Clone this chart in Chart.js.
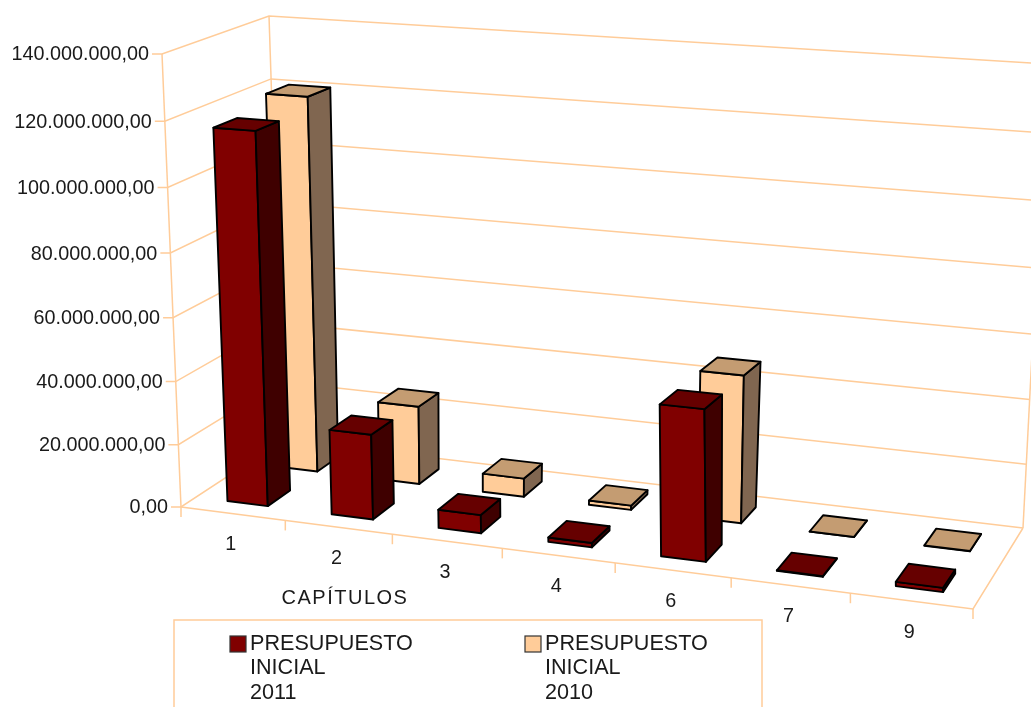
<!DOCTYPE html>
<html>
<head>
<meta charset="utf-8">
<style>
html, body { margin: 0; padding: 0; background: #fff; overflow: hidden; }
#wrap { width: 1031px; height: 707px; }
</style>
<script src="https://cdn.jsdelivr.net/npm/chart.js@4"></script>
</head>
<body>
<div id="wrap"><canvas id="budgetChart" width="1031" height="707"></canvas></div>
<script>
const categories = ['1', '2', '3', '4', '6', '7', '9'];
const budget2011 = [116900000, 26800000, 5700000, 1350000, 45900000, 200000, 1250000];
const budget2010 = [120700000, 25300000, 5900000, 1350000, 46200000, 50000, 100000];
const tickLabels = ['0,00', '20.000.000,00', '40.000.000,00', '60.000.000,00', '80.000.000,00',
    '100.000.000,00', '120.000.000,00', '140.000.000,00'];
const axisTitle = 'CAPÍTULOS';
const legend2011 = ['PRESUPUESTO', 'INICIAL', '2011'];
const legend2010 = ['PRESUPUESTO', 'INICIAL', '2010'];

const LINE_COLOR = '#ffcc99';
const FONT = 'Liberation Sans, Arial, sans-serif';
const HEIGHT_PERSPECTIVE = 0.045;

// corners of the 3D box on screen, floor and ceiling
const floorQuad = [[181, 507], [973, 609], [1023, 528], [283, 440]];
const topQuad = [[162, 54], [957, 105], [1047, 64], [269, 16]];

const floorH = quadMap(floorQuad);
const topH = quadMap(topQuad);

function quadMap(q) {
    const [p0, p1, p2, p3] = q;
    const dx1 = p1[0] - p2[0], dx2 = p3[0] - p2[0], sx = p0[0] - p1[0] + p2[0] - p3[0];
    const dy1 = p1[1] - p2[1], dy2 = p3[1] - p2[1], sy = p0[1] - p1[1] + p2[1] - p3[1];
    const den = dx1 * dy2 - dx2 * dy1;
    const g = (sx * dy2 - dx2 * sy) / den;
    const h = (dx1 * sy - sx * dy1) / den;
    const a = p1[0] - p0[0] + g * p1[0], b = p3[0] - p0[0] + h * p3[0];
    const d = p1[1] - p0[1] + g * p1[1], e = p3[1] - p0[1] + h * p3[1];
    return function (u, t) {
        const w = g * u + h * t + 1;
        return [(a * u + b * t + p0[0]) / w, (d * u + e * t + p0[1]) / w];
    };
}

// u along categories, d into the depth, v up the value axis, all 0..1
function project(u, d, v) {
    const f = floorH(u, d), t = topH(u, d);
    const vv = v / (1 + HEIGHT_PERSPECTIVE * (1 - v));
    return [f[0] + (t[0] - f[0]) * vv, f[1] + (t[1] - f[1]) * vv];
}

function line(ctx, pts) {
    ctx.beginPath();
    ctx.moveTo(pts[0][0], pts[0][1]);
    for (let i = 1; i < pts.length; i++) ctx.lineTo(pts[i][0], pts[i][1]);
    ctx.stroke();
}

function face(ctx, pts, color) {
    ctx.beginPath();
    ctx.moveTo(pts[0][0], pts[0][1]);
    for (let i = 1; i < pts.length; i++) ctx.lineTo(pts[i][0], pts[i][1]);
    ctx.closePath();
    ctx.fillStyle = color;
    ctx.fill();
    ctx.stroke();
}

const box3d = {
    id: 'box3d',
    beforeDatasetsDraw(chart) {
        const ctx = chart.ctx;
        const yScale = chart.scales.y, xScale = chart.scales.x;
        const area = chart.chartArea;
        ctx.save();
        ctx.strokeStyle = LINE_COLOR;
        ctx.lineWidth = 1.5;

        // walls and grid lines
        yScale.ticks.forEach(function (tick) {
            const v = (area.bottom - yScale.getPixelForValue(tick.value)) / area.height;
            const a = project(0, 0, v);
            line(ctx, [[a[0] - 10, a[1]], a, project(0, 1, v), project(1, 1, v)]);
        });
        line(ctx, [project(0, 0, 0), project(0, 0, 1)]);
        line(ctx, [project(0, 1, 0), project(0, 1, 1)]);
        line(ctx, [project(1, 1, 0), project(1, 1, 1)]);
        line(ctx, [project(0, 0, 0), project(1, 0, 0), project(1, 1, 0)]);

        // category ticks
        for (let i = 0; i <= categories.length; i++) {
            const p = project(i / categories.length, 0, 0);
            line(ctx, [p, [p[0], p[1] + 10]]);
        }

        // tick labels
        ctx.fillStyle = '#1a1a1a';
        ctx.font = '19.8px ' + FONT;
        ctx.textAlign = 'right';
        ctx.textBaseline = 'middle';
        yScale.ticks.forEach(function (tick) {
            const v = (area.bottom - yScale.getPixelForValue(tick.value)) / area.height;
            const a = project(0, 0, v);
            ctx.fillText(tick.label, a[0] - 13, a[1] + 1);
        });
        ctx.textAlign = 'center';
        xScale.ticks.forEach(function (tick, i) {
            const u = (xScale.getPixelForTick(i) - area.left) / area.width;
            const p = project(u, 0, 0);
            ctx.fillText(tick.label, p[0] - 2, p[1] + 31);
        });

        // axis title
        ctx.font = '20px ' + FONT;
        ctx.letterSpacing = '1.5px';
        ctx.fillText(axisTitle, 345, 598);
        ctx.letterSpacing = '0px';

        // legend
        ctx.strokeStyle = LINE_COLOR;
        ctx.lineWidth = 1.5;
        ctx.strokeRect(174, 620, 588, 100);
        chart.data.datasets.forEach(function (ds, i) {
            const sx = i === 0 ? 230 : 525;
            ctx.fillStyle = ds.backgroundColor;
            ctx.strokeStyle = '#333333';
            ctx.lineWidth = 1.2;
            ctx.fillRect(sx, 636, 16, 16);
            ctx.strokeRect(sx, 636, 16, 16);
            ctx.fillStyle = '#1a1a1a';
            ctx.textAlign = 'left';
            ctx.font = '21.6px ' + FONT;
            ds.legendLines.forEach(function (txt, n) {
                ctx.fillText(txt, sx + 20, 644 + n * 24.3);
            });
        });
        ctx.restore();
    },
    beforeDatasetDraw(chart, args) {
        const ctx = chart.ctx;
        const area = chart.chartArea;
        const ds = chart.data.datasets[args.index];
        const d0 = (args.index + 0.28) / 2, d1 = (args.index + 0.72) / 2;
        ctx.save();
        ctx.strokeStyle = '#000000';
        ctx.lineWidth = 1.9;
        ctx.lineJoin = 'round';
        args.meta.data.forEach(function (bar) {
            const props = bar.getProps(['x', 'y', 'width'], true);
            const u0 = (props.x - props.width / 2 - area.left) / area.width;
            const u1 = (props.x + props.width / 2 - area.left) / area.width;
            const v = (area.bottom - props.y) / area.height;
            face(ctx, [project(u0, d0, 0), project(u1, d0, 0), project(u1, d0, v), project(u0, d0, v)], ds.backgroundColor);
            face(ctx, [project(u1, d0, 0), project(u1, d1, 0), project(u1, d1, v), project(u1, d0, v)], ds.sideColor);
            face(ctx, [project(u0, d0, v), project(u1, d0, v), project(u1, d1, v), project(u0, d1, v)], ds.topColor);
        });
        ctx.restore();
        return false;
    }
};

new Chart(document.getElementById('budgetChart').getContext('2d'), {
    type: 'bar',
    data: {
        labels: categories,
        datasets: [{
            label: legend2011.join(' '),
            data: budget2011,
            backgroundColor: '#800000',
            sideColor: '#3f0000',
            topColor: '#660000',
            legendLines: legend2011,
            grouped: false,
            categoryPercentage: 1,
            barPercentage: 0.39
        }, {
            label: legend2010.join(' '),
            data: budget2010,
            backgroundColor: '#ffcc99',
            sideColor: '#806650',
            topColor: '#c49c72',
            legendLines: legend2010,
            grouped: false,
            categoryPercentage: 1,
            barPercentage: 0.39
        }]
    },
    options: {
        responsive: false,
        animation: false,
        plugins: { legend: { display: false }, tooltip: { enabled: false } },
        scales: {
            x: { display: false, offset: true },
            y: {
                display: false,
                min: 0,
                max: 140000000,
                ticks: {
                    stepSize: 20000000,
                    callback: function (value) { return tickLabels[value / 20000000]; }
                }
            }
        }
    },
    plugins: [box3d]
});
</script>
</body>
</html>
